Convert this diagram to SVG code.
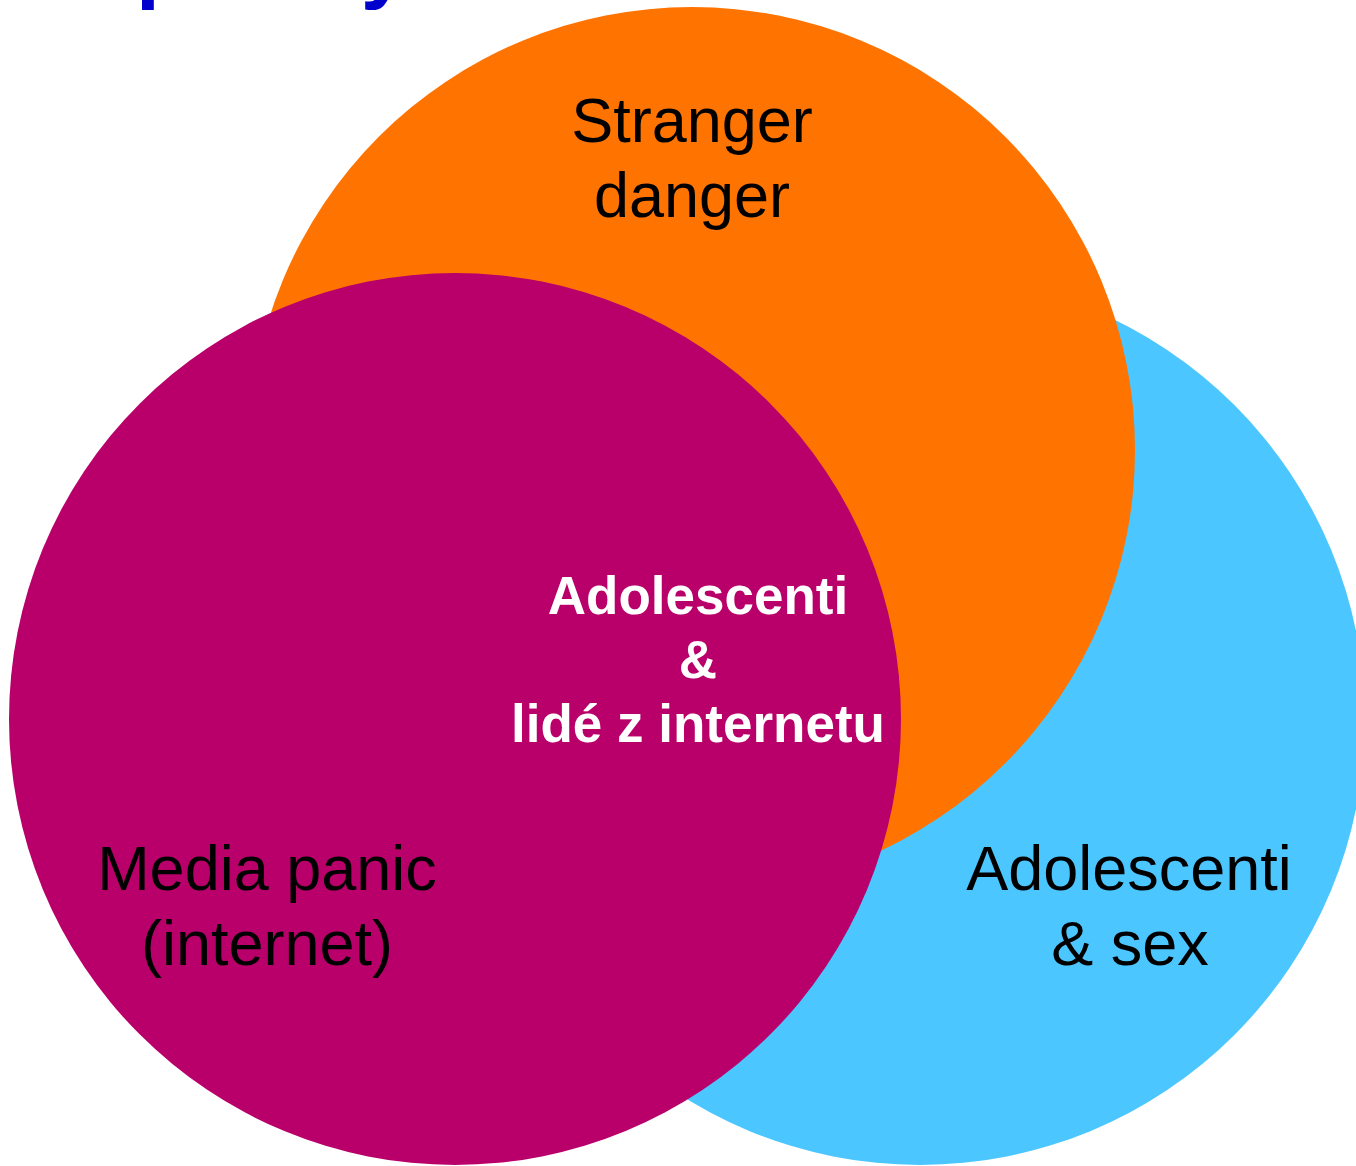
<svg xmlns="http://www.w3.org/2000/svg" width="1356" height="1166" viewBox="0 0 1356 1166">
  <style>
    .lbl { font-family: "Liberation Sans", Arial, sans-serif; font-size: 63px; fill: #000; text-anchor: middle; }
    .ctr { font-family: "Liberation Sans", Arial, sans-serif; font-size: 53px; font-weight: bold; fill: #fff; text-anchor: middle; }
    .title { font-family: "Liberation Sans", Arial, sans-serif; font-size: 86px; font-weight: bold; fill: #0000CC; }
  </style>
  <rect width="1356" height="1166" fill="#fff"/>
  <text class="title" x="-55" y="-8">Complexity</text>
  <g id="circle-sex">
    <circle cx="920" cy="720" r="445" fill="#4CC6FF"/>
  </g>
  <g id="circle-stranger">
    <circle cx="692" cy="450" r="443" fill="#FF7300"/>
  </g>
  <g id="circle-media">
    <circle cx="455" cy="719" r="446" fill="#B9006A"/>
  </g>
  <g id="label-stranger">
    <text class="lbl" x="692" y="142">Stranger</text>
    <text class="lbl" x="692" y="217">danger</text>
  </g>
  <g id="label-media">
    <text class="lbl" x="267" y="890">Media panic</text>
    <text class="lbl" x="267" y="965">(internet)</text>
  </g>
  <g id="label-sex">
    <text class="lbl" x="1129" y="890">Adolescenti</text>
    <text class="lbl" x="1130" y="965">&amp; sex</text>
  </g>
  <g id="label-center">
    <text class="ctr" x="698" y="614">Adolescenti</text>
    <text class="ctr" x="698" y="678">&amp;</text>
    <text class="ctr" x="698" y="742">lidé z internetu</text>
  </g>
  <g id="connectors"/>
</svg>
